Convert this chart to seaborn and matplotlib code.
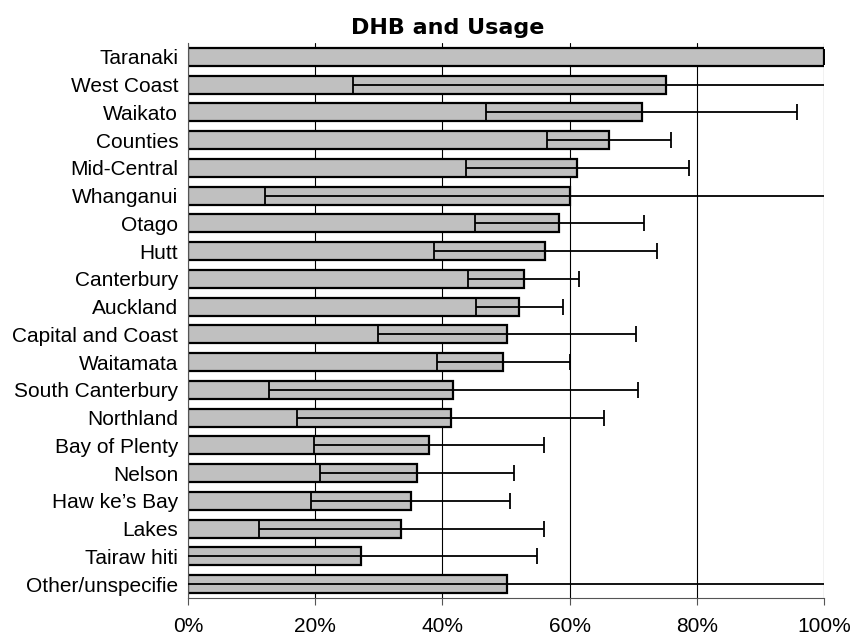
import matplotlib
matplotlib.use("Agg")
import numpy as np
import pandas as pd
import matplotlib.pyplot as plt
import seaborn as sns
from matplotlib.ticker import FuncFormatter, FixedLocator

# Data (percent)
dhb = ["Taranaki", "West Coast", "Waikato", "Counties", "Mid-Central",
       "Whanganui", "Otago", "Hutt", "Canterbury", "Auckland",
       "Capital and Coast", "Waitamata", "South Canterbury", "Northland",
       "Bay of Plenty", "Nelson", "Haw ke\u2019s Bay", "Lakes", "Tairaw hiti",
       "Other/unspecifie"]
usage = [100.0, 75.2, 71.3, 66.2, 61.2, 60.0, 58.4, 56.2, 52.8, 52.1,
         50.2, 49.6, 41.7, 41.3, 37.9, 36.0, 35.0, 33.5, 27.2, 50.2]
err = [0.0, 49.3, 24.4, 9.7, 17.5, 47.9, 13.3, 17.5, 8.7, 6.8,
       20.3, 10.5, 29.0, 24.1, 18.0, 15.3, 15.6, 22.4, 27.7, 55.0]

df = pd.DataFrame({"DHB": dhb, "Usage": usage, "Err": err})

sns.set_style("white")
plt.rcParams['font.family'] = ['Liberation Sans', 'DejaVu Sans']
plt.rcParams['text.color'] = 'black'

fig = plt.figure(figsize=(8.54, 6.35), dpi=100)
ax = fig.add_axes([0.220, 0.0583, 0.745, 0.874])

sns.barplot(data=df, x="Usage", y="DHB", orient="h", color="#C0C0C0",
            edgecolor="black", linewidth=1.6, width=0.65, saturation=1,
            errorbar=None, ax=ax)

ypos = np.arange(len(dhb))
ax.errorbar(df["Usage"], ypos, xerr=df["Err"], fmt="none", ecolor="black",
            elinewidth=1.3, capsize=6, capthick=1.3, zorder=5)

ax.set_xlim(0, 100)
ax.set_ylim(len(dhb) - 0.5, -0.5)
ax.xaxis.set_major_locator(FixedLocator([0, 20, 40, 60, 80, 100]))
ax.xaxis.set_major_formatter(FuncFormatter(lambda v, p: f"{int(v)}%"))
ax.grid(axis="x", color="black", linewidth=0.8)
ax.set_axisbelow(True)

ax.set_yticks(ypos)
ax.set_yticks(np.arange(-0.5, len(dhb)), minor=True)
ax.tick_params(axis="y", which="major", length=0, labelsize=15, pad=7,
               labelcolor="black")
ax.tick_params(axis="y", which="minor", length=4, color="#555555", width=1)
ax.tick_params(axis="x", which="major", length=5, labelsize=15, pad=9,
               bottom=True, color="#555555", labelcolor="black")

for s in ["top", "right"]:
    ax.spines[s].set_visible(False)
ax.spines["left"].set_color("#555555")
ax.spines["bottom"].set_color("#555555")

ax.set_xlabel("")
ax.set_ylabel("")
fig.text(448 / 854, 1 - 28 / 635, "DHB and Usage", ha="center", va="center",
         fontsize=16, fontweight="bold", family="DejaVu Sans", color="black")

fig.savefig("out.png", dpi=100)
